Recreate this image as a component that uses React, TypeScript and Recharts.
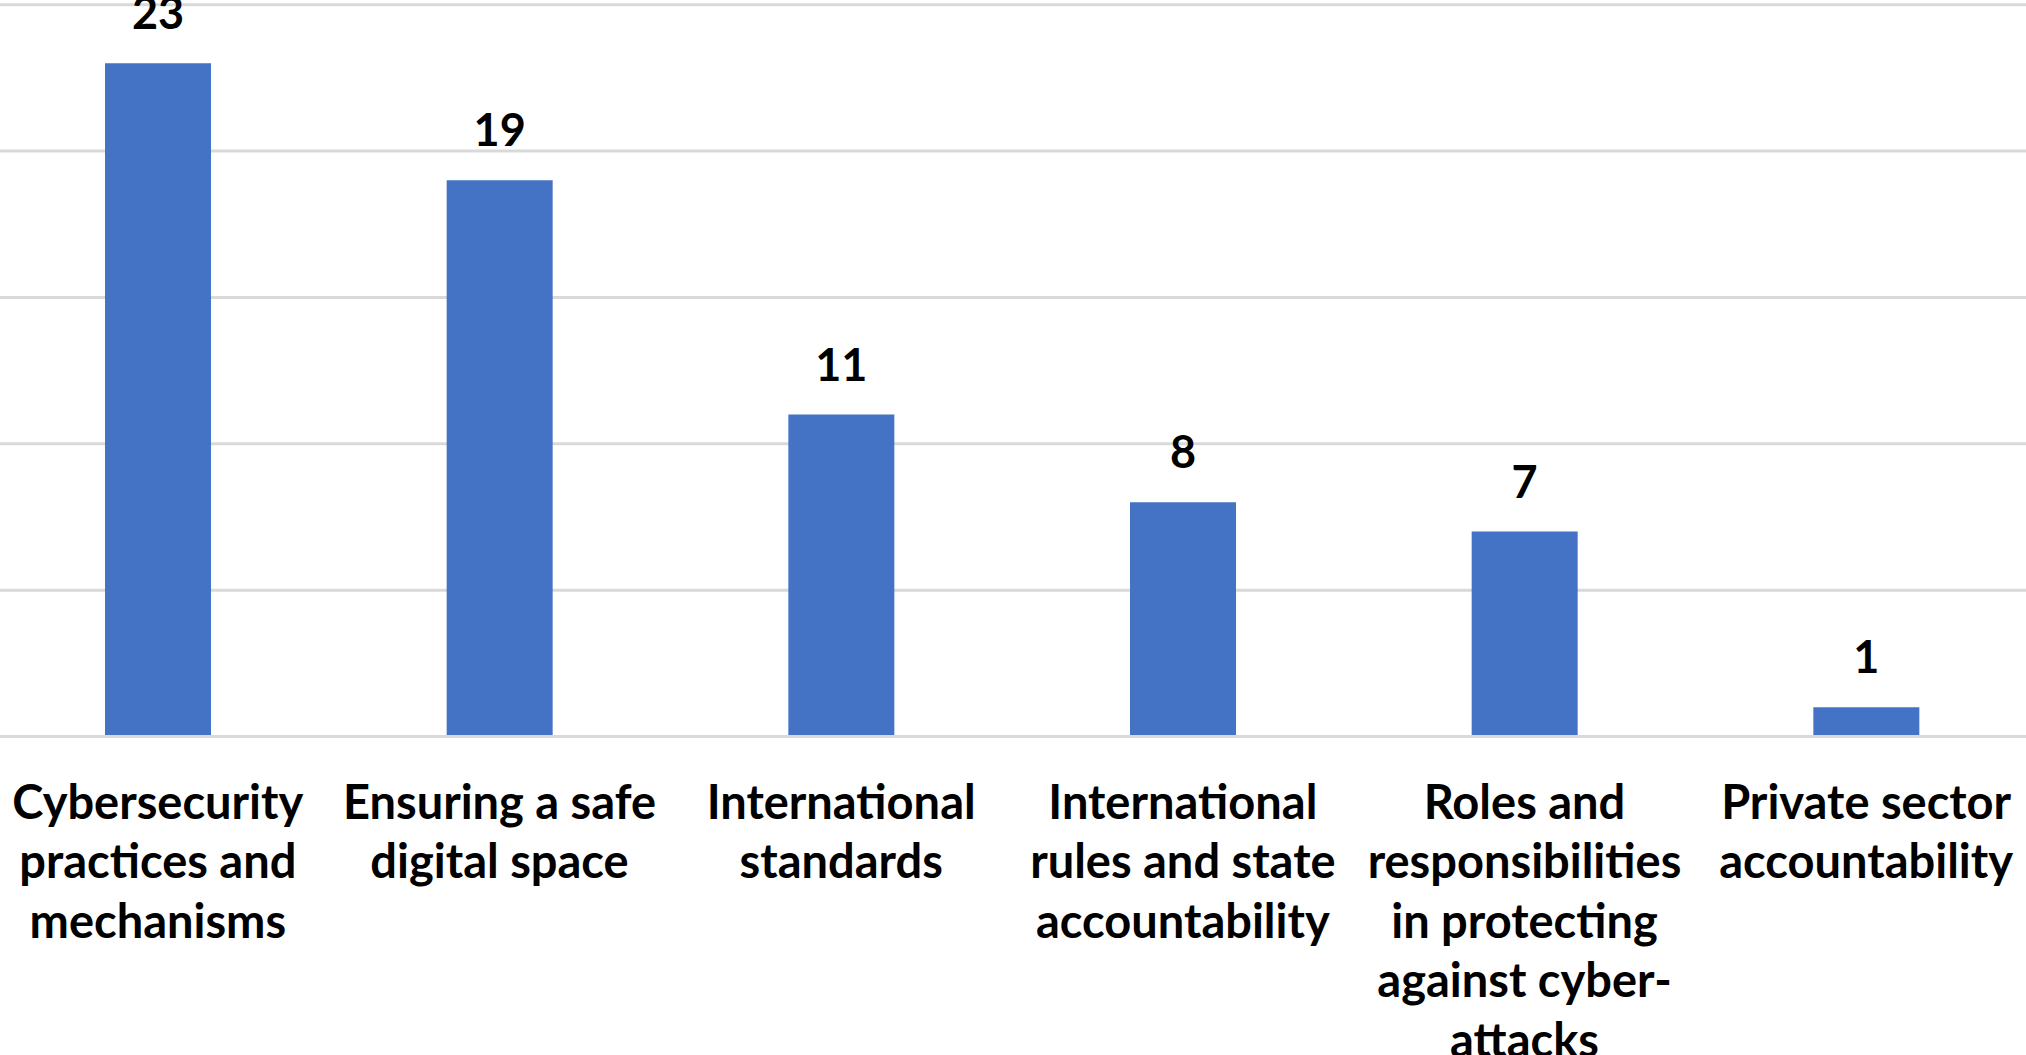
import React from "react";
import { BarChart, Bar, XAxis, YAxis, CartesianGrid, LabelList } from "recharts";

const categories: string[] = [
  "Cybersecurity practices and mechanisms",
  "Ensuring a safe digital space",
  "International standards",
  "International rules and state accountability",
  "Roles and responsibilities in protecting against cyber-attacks",
  "Private sector accountability",
];
const counts: number[] = [23, 19, 11, 8, 7, 1];
const yTicks: number[] = [0, 5, 10, 15, 20, 25];

const data = categories.map((name, i) => ({ name, value: counts[i] }));

const FONT_FAMILY = "Lato, 'Open Sans', sans-serif";
const FONT_SIZE = 47;
const LABEL_SIZE = 45;
const LINE_H = 59.5;
const WRAP_W = 342;

let ctx: CanvasRenderingContext2D | null = null;
function measure(s: string): number {
  if (!ctx) {
    const c = document.createElement("canvas");
    ctx = c.getContext("2d");
  }
  if (!ctx) return s.length * FONT_SIZE * 0.5;
  ctx.font = `bold ${FONT_SIZE}px Lato`;
  return ctx.measureText(s).width;
}

function wrap(text: string): string[] {
  const pieces: { t: string; space: boolean }[] = [];
  text.split(" ").forEach((w) => {
    const parts = w.split(/(?<=-)/);
    parts.forEach((p, j) => pieces.push({ t: p, space: j === 0 }));
  });
  const lines: string[] = [];
  let line = "";
  pieces.forEach((p) => {
    const cand = line ? line + (p.space ? " " : "") + p.t : p.t;
    if (!line || measure(cand) <= WRAP_W) line = cand;
    else {
      lines.push(line);
      line = p.t;
    }
  });
  if (line) lines.push(line);
  return lines;
}

const CategoryTick = (props: any) => {
  const { x, y, payload } = props;
  const lines = wrap(String(payload.value));
  return (
    <text
      textAnchor="middle"
      fill="#000"
      fontFamily={FONT_FAMILY}
      fontWeight="bold"
      fontSize={FONT_SIZE}
    >
      {lines.map((l, i) => (
        <tspan key={i} x={x} y={y + 82 + i * LINE_H}>
          {l}
        </tspan>
      ))}
    </text>
  );
};

export default function App() {
  return (
    <div
      style={{
        position: "fixed",
        left: 0,
        top: 0,
        width: 2026,
        height: 1055,
        overflow: "hidden",
        background: "#fff",
      }}
    >
      <div style={{ position: "absolute", left: -13, top: 0 }}>
        <BarChart
          width={2050}
          height={1055}
          data={data}
          margin={{ top: 4.7, right: 0, bottom: 0, left: 0 }}
        >
          <CartesianGrid vertical={false} stroke="#d9d9d9" strokeWidth={3} />
          <XAxis
            dataKey="name"
            height={318.5}
            tickLine={false}
            tickSize={0}
            tickMargin={0}
            axisLine={{ stroke: "#d9d9d9", strokeWidth: 3 }}
            tick={<CategoryTick />}
            interval={0}
          />
          <YAxis hide domain={[0, 25]} ticks={yTicks} />
          <Bar dataKey="value" fill="#4472C4" barSize={106} isAnimationActive={false}>
            <LabelList
              dataKey="value"
              position="top"
              offset={34}
              fill="#000"
              fontFamily={FONT_FAMILY}
              fontWeight="bold"
              fontSize={LABEL_SIZE}
            />
          </Bar>
        </BarChart>
      </div>
    </div>
  );
}
